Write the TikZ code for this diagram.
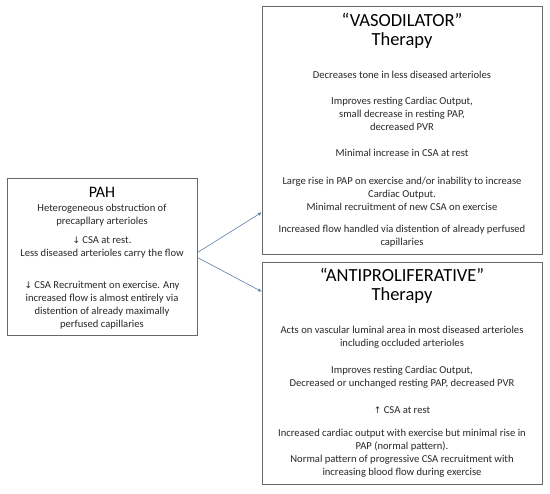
\documentclass[tikz,border=0pt]{standalone}
\usepackage{fontspec}
\setmainfont{Carlito}
\newfontfamily\symfont{DejaVu Sans}
\usetikzlibrary{arrows.meta}
\definecolor{boxgray}{RGB}{105,105,105}
\definecolor{textgray}{RGB}{40,40,40}
\definecolor{arrowblue}{RGB}{95,125,170}
\newcommand{\dnarrow}{{\symfont\fontsize{9}{10}\selectfont ↓}}
\newcommand{\uparr}{{\symfont\fontsize{9}{10}\selectfont ↑}}
\tikzset{
  box/.style={draw=boxgray, line width=1pt, fill=white, inner sep=0pt},
  body/.style={align=center, text=textgray, inner sep=0pt, font=\fontsize{10.6}{12.9}\selectfont},
  title/.style={align=center, text=black, inner sep=0pt, font=\fontsize{18.5}{18.5}\selectfont},
  arr/.style={draw=arrowblue, line width=0.6pt, -{Stealth[length=4pt,width=3.5pt]}}
}
\begin{document}
\begin{tikzpicture}[x=1pt,y=-1pt]
\useasboundingbox[fill=white] (0,0) rectangle (550,494);
% boxes
\node[box, minimum width=190pt, minimum height=157pt] (pah) at (102,257.5) {};
\node[box, minimum width=280pt, minimum height=248pt] (vaso) at (402,131) {};
\node[box, minimum width=280pt, minimum height=222pt] (anti) at (402,374) {};
% PAH text
\node[title, font=\fontsize{16}{16}\selectfont] (pahT) at (102,192) {PAH};
\node[body] (pah1) at (102,215) {Heterogeneous obstruction\ of\\precapllary arterioles};
\node[body] (pah2) at (102,247.5) {\dnarrow\ CSA at rest.\\Less diseased arterioles carry the flow};
\node[body] (pah3) at (102,305.5) {\dnarrow\ CSA Recruitment on exercise. Any\\increased flow is almost entirely via\\distention of already maximally\\perfused capillaries};
% Vasodilator text
\node[title] (vasoT) at (402,31) {“VASODILATOR”\\Therapy};
\node[body] (v1) at (402,75) {Decreases tone in less diseased arterioles};
\node[body] (v2) at (402,113.5) {Improves\ resting Cardiac Output,\\small decrease in resting PAP,\\decreased PVR};
\node[body] (v3) at (402,153) {Minimal increase in CSA at rest};
\node[body] (v4) at (402,193.5) {Large rise in PAP on exercise and/or inability to increase\\Cardiac Output.\\Minimal recruitment\ of new CSA on exercise};
\node[body] (v5) at (402,236.5) {Increased flow handled via distention of already perfused\\capillaries};
% Antiproliferative text
\node[title] (antiT) at (402,286) {“ANTIPROLIFERATIVE”\\Therapy};
\node[body] (a1) at (402,337.5) {Acts on\ vascular luminal area in most\ diseased arterioles\\including occluded arterioles};
\node[body] (a2) at (402,377) {Improves\ resting Cardiac Output,\\Decreased or unchanged resting PAP, decreased PVR};
\node[body] (a3) at (402,410) {\uparr\ CSA at rest};
\node[body] (a4) at (402,453.5) {Increased cardiac output\ with\ exercise but minimal\ rise in\\PAP (normal\ pattern).\\Normal\ pattern\ of\ progressive CSA recruitment\ with\\increasing blood flow during\ exercise};
% arrows
\draw[arr] ([yshift=5pt]pah.east) -- ([yshift=43pt]vaso.south west);
\draw[arr] ([yshift=0pt]pah.east) -- ([yshift=-29pt]anti.north west);
\end{tikzpicture}
\end{document}
